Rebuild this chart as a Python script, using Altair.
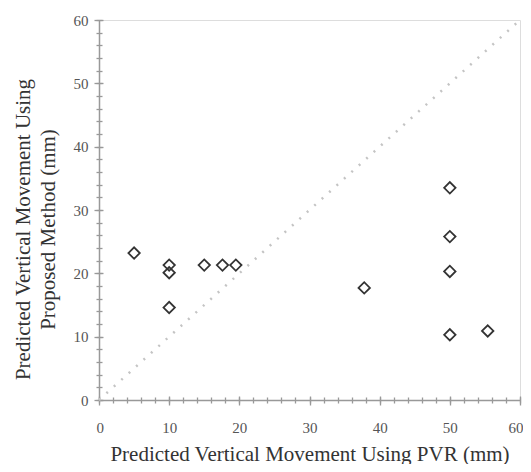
import altair as alt
import pandas as pd

pvr = [5, 10, 10, 10, 15, 17.6, 19.5, 37.8, 50, 50, 50, 50, 55.4]
proposed = [23.2, 21.3, 20.1, 14.6, 21.3, 21.3, 21.3, 17.7, 33.5, 25.8, 20.3, 10.3, 10.9]
line_x = [0, 60]
line_y = [0, 60]
major_ticks = list(range(0, 61, 10))
minor_ticks = list(range(0, 61, 2))

pts = pd.DataFrame({"x": pvr, "y": proposed})
diag = pd.DataFrame({"x": line_x, "y": line_y})

FONT = "Liberation Serif"
xs = alt.Scale(domain=[0, 60], nice=False, zero=False)
ys = alt.Scale(domain=[0, 60], nice=False, zero=False)

main_x = alt.Axis(values=major_ticks, orient="bottom", grid=False, ticks=False, tickSize=0,
                  domainColor="#999999", domainWidth=1.5, labelFont=FONT, labelFontSize=15,
                  labelColor="#555555", labelBaseline="alphabetic", labelPadding=32,
                  labelFlush=True, labelFlushOffset=3,
                  title="Predicted Vertical Movement Using PVR (mm)", titleFont=FONT,
                  titleFontSize=21, titleFontWeight="normal", titleColor="#333333",
                  titleBaseline="alphabetic", titleY=60)
main_y = alt.Axis(values=major_ticks, orient="left", grid=False, ticks=False, tickSize=0,
                  domainColor="#999999", domainWidth=1.5, labelFont=FONT, labelFontSize=15,
                  labelColor="#555555", labelPadding=11, labelFlush=False,
                  title=["Predicted Vertical Movement Using", "Proposed Method (mm)"],
                  titleFont=FONT, titleFontSize=21, titleFontWeight="normal",
                  titleColor="#333333", titleBaseline="middle", titleLineHeight=25,
                  titleX=-76, titleY=209, titleAngle=270)

def tick_axis(orient, vals, off, size):
    return alt.Axis(values=vals, orient=orient, grid=False, domain=False, labels=False,
                    title=None, ticks=True, tickSize=size, offset=off,
                    tickColor="#999999", tickWidth=1.3)

diag_layer = alt.Chart(diag).mark_line(
    color="#c4c4c4", strokeWidth=2.5, strokeDash=[2, 8]
).encode(
    x=alt.X("x:Q", scale=xs, axis=main_x),
    y=alt.Y("y:Q", scale=ys, axis=main_y),
)

point_layer = alt.Chart(pts).mark_point(
    shape="diamond", size=130, filled=False, color="#333333", strokeWidth=1.8, opacity=1
).encode(
    x=alt.X("x:Q", scale=xs, axis=tick_axis("bottom", major_ticks, -4, 9)),
    y=alt.Y("y:Q", scale=ys, axis=tick_axis("left", major_ticks, -4, 9)),
)

minor_layer = alt.Chart(diag).mark_line(opacity=0).encode(
    x=alt.X("x:Q", scale=xs, axis=tick_axis("bottom", minor_ticks, -3, 6)),
    y=alt.Y("y:Q", scale=ys, axis=tick_axis("left", minor_ticks, -3, 6)),
)

chart = alt.layer(diag_layer, minor_layer, point_layer).resolve_axis(
    x="independent", y="independent"
).resolve_scale(x="shared", y="shared").properties(
    width=421, height=380,
    autosize=alt.AutoSizeParams(type="none"),
    padding={"left": 91, "top": 12, "right": 3, "bottom": 64},
).configure_view(stroke=None).configure(background="white")

chart.save("out.html", embed_options={"renderer": "svg", "actions": False})
